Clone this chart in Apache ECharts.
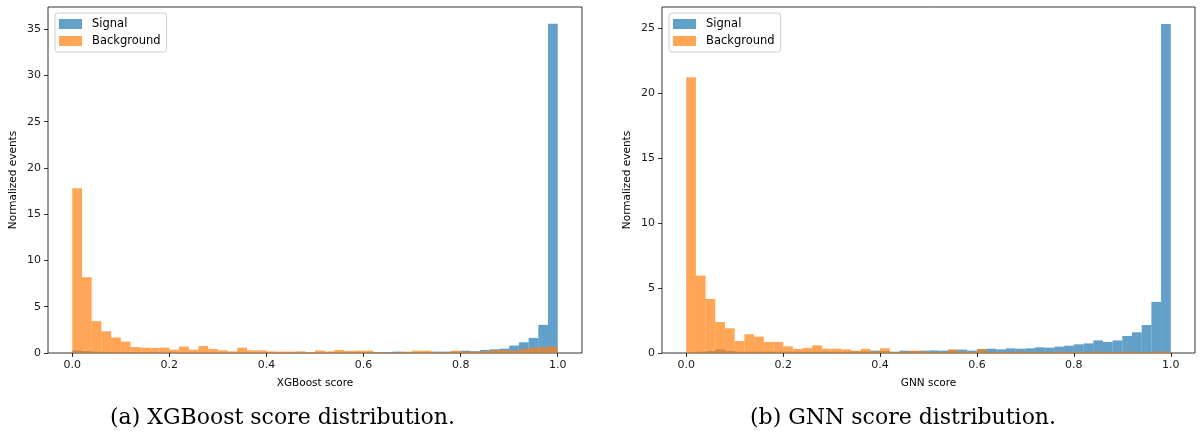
<!DOCTYPE html>
<html>
<head>
<meta charset="utf-8">
<script src="https://cdn.jsdelivr.net/npm/echarts@6/dist/echarts.min.js"></script>
<style>
html,body{margin:0;padding:0;background:#fff;}
#chart{width:1202px;height:446px;}
</style>
</head>
<body>
<div id="chart"></div>
<script>
// ---- Data (histograms with 50 equal bins over [0, 1]) ----
const binRange = [0, 1];
const nBins = 50;
const xTicks = [0, 0.2, 0.4, 0.6, 0.8, 1.0];
const yTicksA = [0, 5, 10, 15, 20, 25, 30, 35];
const yTicksB = [0, 5, 10, 15, 20, 25];
const seriesNames = ['Signal', 'Background'];

const xgbSignal = [
  0.28, 0.20, 0.15, 0.12, 0.10, 0.10, 0.08, 0.07, 0.07, 0.06,
  0.06, 0.06, 0.06, 0.06, 0.06, 0.06, 0.06, 0.06, 0.06, 0.06,
  0.06, 0.06, 0.06, 0.06, 0.06, 0.06, 0.07, 0.07, 0.07, 0.07,
  0.08, 0.10, 0.08, 0.15, 0.10, 0.10, 0.10, 0.15, 0.15, 0.15,
  0.25, 0.20, 0.33, 0.40, 0.47, 0.80, 1.16, 1.63, 3.04, 35.6
];
const xgbBackground = [
  17.8, 8.20, 3.45, 2.35, 1.67, 1.23, 0.65, 0.58, 0.54, 0.58,
  0.36, 0.69, 0.36, 0.76, 0.43, 0.29, 0.18, 0.58, 0.29, 0.29,
  0.18, 0.15, 0.15, 0.18, 0.10, 0.27, 0.18, 0.33, 0.22, 0.25,
  0.25, 0.10, 0.05, 0.07, 0.15, 0.25, 0.25, 0.08, 0.10, 0.25,
  0.15, 0.15, 0.18, 0.29, 0.33, 0.25, 0.43, 0.58, 0.62, 0.69
];
const gnnSignal = [
  0.05, 0.10, 0.15, 0.28, 0.15, 0.10, 0.10, 0.10, 0.10, 0.10,
  0.10, 0.10, 0.10, 0.10, 0.10, 0.10, 0.10, 0.12, 0.12, 0.18,
  0.15, 0.10, 0.18, 0.15, 0.18, 0.20, 0.18, 0.25, 0.26, 0.18,
  0.30, 0.33, 0.28, 0.36, 0.33, 0.36, 0.44, 0.41, 0.49, 0.56,
  0.67, 0.74, 0.97, 0.85, 0.97, 1.31, 1.59, 2.15, 3.93, 25.3
];
const gnnBackground = [
  21.2, 5.95, 4.15, 2.38, 1.90, 0.92, 1.44, 1.26, 0.85, 0.85,
  0.51, 0.31, 0.38, 0.59, 0.33, 0.33, 0.28, 0.18, 0.32, 0.13,
  0.36, 0.08, 0.10, 0.18, 0.12, 0.08, 0.08, 0.26, 0.10, 0.08,
  0.30, 0.08, 0.08, 0.08, 0.10, 0.08, 0.08, 0.08, 0.10, 0.08,
  0.08, 0.08, 0.10, 0.08, 0.08, 0.10, 0.08, 0.08, 0.10, 0.10
];

// ---- Build option ----
const binW = (binRange[1] - binRange[0]) / nBins;
function toBins(vals) {
  return vals.map((v, i) => [binRange[0] + i * binW, binRange[0] + (i + 1) * binW, v]);
}
function renderItem(params, api) {
  const p0 = api.coord([api.value(0), api.value(2)]);
  const p1 = api.coord([api.value(1), 0]);
  return {
    type: 'rect',
    shape: { x: p0[0], y: p0[1], width: p1[0] - p0[0], height: p1[1] - p0[1] },
    style: { fill: api.visual('color'), opacity: 0.7 }
  };
}
const COLORS = ['#1f77b4', '#ff7f0e'];
const tickFont = { fontFamily: 'DejaVu Sans', fontSize: 11, color: '#1a1a1a' };

function xAxis(gridIndex, name) {
  return {
    type: 'value', gridIndex, min: -0.05, max: 1.05,
    name, nameLocation: 'middle', nameGap: 25,
    nameTextStyle: { fontFamily: 'DejaVu Sans', fontSize: 10.5, color: '#000' },
    axisLine: { show: false, onZero: false },
    splitLine: { show: false },
    axisTick: { show: true, inside: false, length: 4, lineStyle: { color: '#000', width: 0.8 }, customValues: xTicks },
    axisLabel: Object.assign({ margin: 7, customValues: xTicks, formatter: v => v.toFixed(1) }, tickFont)
  };
}
function yAxis(gridIndex, max, ticks) {
  return {
    type: 'value', gridIndex, min: 0, max,
    name: 'Normalized events', nameLocation: 'middle', nameGap: 29, nameRotate: 90,
    nameTextStyle: { fontFamily: 'DejaVu Sans', fontSize: 10.5, color: '#000' },
    axisLine: { show: false, onZero: false },
    splitLine: { show: false },
    axisTick: { show: true, inside: false, length: 4, lineStyle: { color: '#000', width: 0.8 }, customValues: ticks },
    axisLabel: Object.assign({ margin: 7, customValues: ticks }, tickFont)
  };
}
function legend(left) {
  return {
    data: seriesNames.map(n => ({ name: n, icon: 'rect' })), orient: 'vertical', left, top: 13,
    itemWidth: 23, itemHeight: 10, itemGap: 5,
    padding: [5, 6, 5, 4],
    borderColor: '#d0d0d0', borderWidth: 1, borderRadius: 3,
    backgroundColor: 'rgba(255,255,255,0.8)',
    textStyle: { fontFamily: 'DejaVu Sans', fontSize: 11.5, color: '#000', padding: [0, 0, 0, 5] },
    selectedMode: false
  };
}
function hist(name, vals, axisIdx, color) {
  return {
    type: 'custom', name, renderItem,
    xAxisIndex: axisIdx, yAxisIndex: axisIdx,
    itemStyle: { color, opacity: 0.7 },
    encode: { x: [0, 1], y: 2 },
    data: toBins(vals), clip: true
  };
}

const option = {
  backgroundColor: '#fff',
  animation: false,
  grid: [
    { left: 48, top: 7, width: 534, height: 346, show: true, borderColor: '#000', borderWidth: 0.8, backgroundColor: 'transparent' },
    { left: 662, top: 7, width: 533, height: 346, show: true, borderColor: '#000', borderWidth: 0.8, backgroundColor: 'transparent' }
  ],
  xAxis: [xAxis(0, 'XGBoost score'), xAxis(1, 'GNN score')],
  yAxis: [yAxis(0, 37.4, yTicksA), yAxis(1, 26.6, yTicksB)],
  legend: [legend(55), legend(669)],
  series: [
    hist('Signal', xgbSignal, 0, COLORS[0]),
    hist('Background', xgbBackground, 0, COLORS[1]),
    hist('Signal', gnnSignal, 1, COLORS[0]),
    hist('Background', gnnBackground, 1, COLORS[1])
  ],
  graphic: [
    { type: 'text', left: 110, top: 407, style: { text: '(a) XGBoost score distribution.', font: '22px "DejaVu Serif"', fill: '#000' } },
    { type: 'text', left: 750, top: 407, style: { text: '(b) GNN score distribution.', font: '22px "DejaVu Serif"', fill: '#000' } }
  ]
};
const chart = echarts.init(document.getElementById('chart'), null, { renderer: 'canvas' });
chart.setOption(option);
</script>
</body>
</html>
